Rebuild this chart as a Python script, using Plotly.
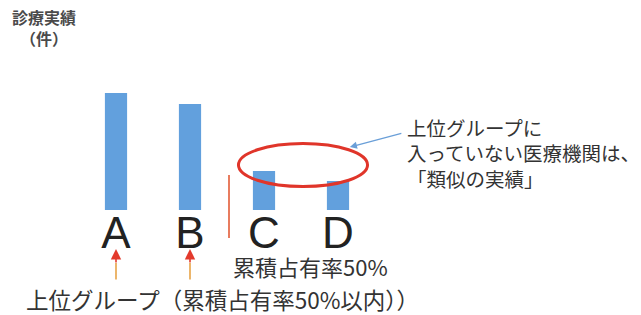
import plotly.graph_objects as go

# ---- data ----
categories = ["A", "B", "C", "D"]
values = [117, 106, 39, 29]          # 診療実績（件）, relative heights
top_group = ["A", "B"]               # 上位グループ（累積占有率50%以内）

W, H = 641, 315
CJK = "Noto Sans CJK JP"

def px(x):   # pixel x -> paper
    return x / W

def py(y):   # pixel y (from top) -> paper
    return 1 - y / H

fig = go.Figure()
fig.add_trace(go.Bar(
    x=categories, y=values, width=0.3,
    marker=dict(color="#62a0dd", line=dict(width=0)),
    hoverinfo="skip",
))

annotations = []
# title
annotations.append(dict(xref="paper", yref="paper", x=px(44), y=py(27),
                        text="<b>診療実績</b><br><b>（件）</b>", showarrow=False,
                        xanchor="center", yanchor="middle", align="center",
                        font=dict(family=CJK, size=16, color="#4a4a4a")))
# 50% text
annotations.append(dict(xref="paper", yref="paper", x=px(231), y=py(266),
                        text="累積占有率50%", showarrow=False,
                        xanchor="left", yanchor="middle",
                        font=dict(family=CJK, size=22, color="#333333")))
# bottom text
annotations.append(dict(xref="paper", yref="paper", x=px(24), y=py(299),
                        text="上位グループ（累積占有率50%以内））", showarrow=False,
                        xanchor="left", yanchor="middle",
                        font=dict(family=CJK, size=22.5, color="#333333")))
# right callout text
annotations.append(dict(xref="paper", yref="paper", x=px(405), y=py(153),
                        text="上位グループに<br>入っていない医療機関は、<br>「類似の実績」",
                        showarrow=False, xanchor="left", yanchor="middle", align="left",
                        font=dict(family=CJK, size=19.5, color="#333333")))
# blue arrow
annotations.append(dict(xref="x", yref="y", x=3.16, y=63, ax=53, ay=-14,
                        axref="pixel", ayref="pixel", text="", showarrow=True,
                        arrowhead=2, arrowsize=1.1, arrowwidth=1.3, arrowcolor="#6a9fd8"))
# up arrows under the top group
for c in top_group:
    annotations.append(dict(xref="x", yref="y", x=c, y=-53, ax=0, ay=18,
                            text="", showarrow=True, arrowhead=0, arrowwidth=1.6,
                            arrowcolor="#e8a448"))
    annotations.append(dict(xref="x", yref="y", x=c, y=-39, ax=0, ay=15,
                            text="", showarrow=True, arrowhead=2, arrowsize=1.3,
                            arrowwidth=1.6, arrowcolor="#e33a2c"))

shapes = [
    # 50% boundary line
    dict(type="line", xref="x", yref="y", x0=1.527, x1=1.527, y0=35, y1=-28,
         line=dict(color="#e0502a", width=1.5)),
    # ellipse over C, D
    dict(type="circle", xref="x", yref="y", x0=1.655, x1=3.399, y0=23.5, y1=66.5,
         line=dict(color="#e0352a", width=3)),
]

fig.update_layout(
    width=W, height=H,
    margin=dict(l=0, r=0, t=0, b=0),
    paper_bgcolor="white", plot_bgcolor="white",
    showlegend=False,
    xaxis=dict(range=[-1.5676, 7.0946], anchor="free", position=py(203),
               showgrid=False, zeroline=False, showline=False, ticks="",
               tickfont=dict(family="Liberation Sans", size=44, color="#222222"),
               ticklabelstandoff=0),
    yaxis=dict(range=[-105, 210], visible=False, showgrid=False, zeroline=False),
    annotations=annotations,
    shapes=shapes,
)

fig.write_html("out.html", config={"displayModeBar": False},
               post_script="document.body.style.margin='0';document.body.style.overflow='hidden';")
